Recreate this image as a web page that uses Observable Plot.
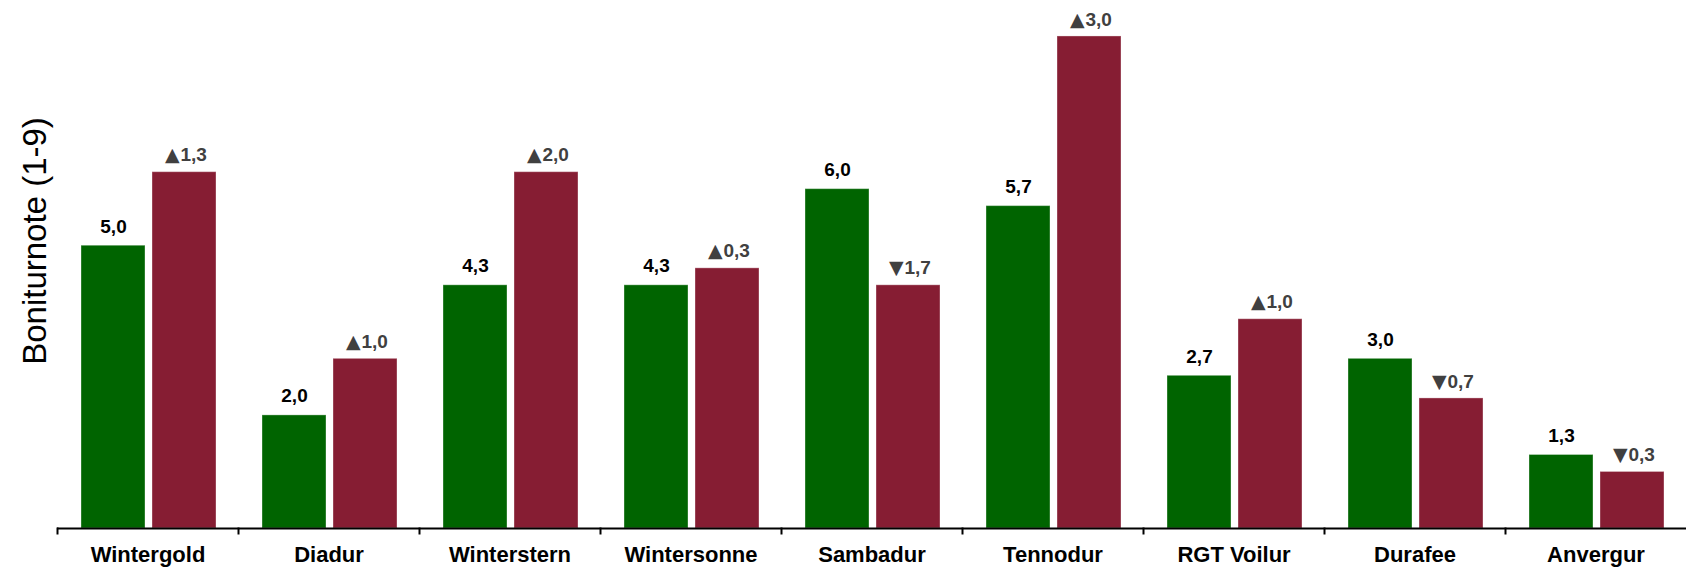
<!DOCTYPE html>
<html>
<head>
<meta charset="utf-8">
<script src="https://cdn.jsdelivr.net/npm/d3@7"></script>
<script src="https://cdn.jsdelivr.net/npm/@observablehq/plot@0.6"></script>
<style>
  html, body { margin: 0; padding: 0; background: #fff; }
  svg { font-family: "Liberation Sans", Arial, sans-serif; }
</style>
</head>
<body>
<div id="chart"></div>
<script>
// Sorten (categories)
const categories = ["Wintergold", "Diadur", "Winterstern", "Wintersonne", "Sambadur", "Tennodur", "RGT Voilur", "Durafee", "Anvergur"];
// Series names (not shown)
const series = ["Ergebnis", "Vergleich"];
// Boniturnote values
const ergebnis = [5.0, 2.0, 4.3, 4.3, 6.0, 5.7, 2.7, 3.0, 1.3];
const vergleich = [6.3, 3.0, 6.3, 4.6, 4.3, 8.7, 3.7, 2.3, 1.0];
const yLabel = "Boniturnote (1-9)";

const fmt = v => v.toFixed(1).replace(".", ",");

const table = [];
categories.forEach((c, i) => {
  table.push({cat: c, series: series[0], value: ergebnis[i], label: fmt(ergebnis[i])});
  const d = vergleich[i] - ergebnis[i];
  table.push({cat: c, series: series[1], value: vergleich[i], label: fmt(Math.abs(d)), arrow: d >= 0 ? "\u25B2" : "\u25BC"});
});
const green = table.filter(d => d.series === series[0]);
const red = table.filter(d => d.series === series[1]);

const W = 1690, H = 567, mT = 19, mB = 39, mL = 53, mR = 0;
const plotH = H - mT - mB;

const chart = Plot.plot({
  width: W,
  height: H,
  marginTop: mT,
  marginBottom: mB,
  marginLeft: mL,
  marginRight: mR,
  style: {fontFamily: "'Liberation Sans', Arial, sans-serif", background: "#fff", color: "#000"},
  fx: {domain: categories, padding: 0, label: null},
  x: {domain: series, paddingInner: 0.1, paddingOuter: 0.32, align: 0.52, axis: null},
  y: {domain: [0, 9], axis: null},
  color: {domain: series, range: ["#006400", "#861d33"]},
  marks: [
    Plot.barY(table, {fx: "cat", x: "series", y: "value", fill: "series", stroke: "#fff", strokeOpacity: 0.35, strokeWidth: 1}),
    Plot.text(green, {fx: "cat", x: "series", y: "value", text: "label", dy: -19, fontSize: 19, fontWeight: "bold", fill: "#000"}),
    Plot.text(red, {fx: "cat", x: "series", y: "value", text: "label", textAnchor: "start", dx: -4, dy: -17, fontSize: 19, fontWeight: "bold", fill: "#404040"}),
    Plot.text(red, {fx: "cat", x: "series", y: "value", text: "arrow", textAnchor: "end", dx: -5, dy: -17, fontSize: 19, fontFamily: "DejaVu Sans", fill: "#404040"}),
    Plot.ruleY([0], {stroke: "#000", strokeWidth: 2}),
    Plot.frame({anchor: "left", insetTop: plotH, insetBottom: -5, stroke: "#000", strokeWidth: 2}),
    Plot.axisFx({anchor: "bottom", tickSize: 0, tickPadding: 18, fontSize: 22, fontWeight: "bold", label: null}),
    Plot.text([yLabel], {facet: "super", frameAnchor: "left", textAnchor: "middle", rotate: -90, dx: -22, dy: -33, fontSize: 33, fill: "#000"})
  ]
});
document.getElementById("chart").appendChild(chart);
</script>
</body>
</html>
